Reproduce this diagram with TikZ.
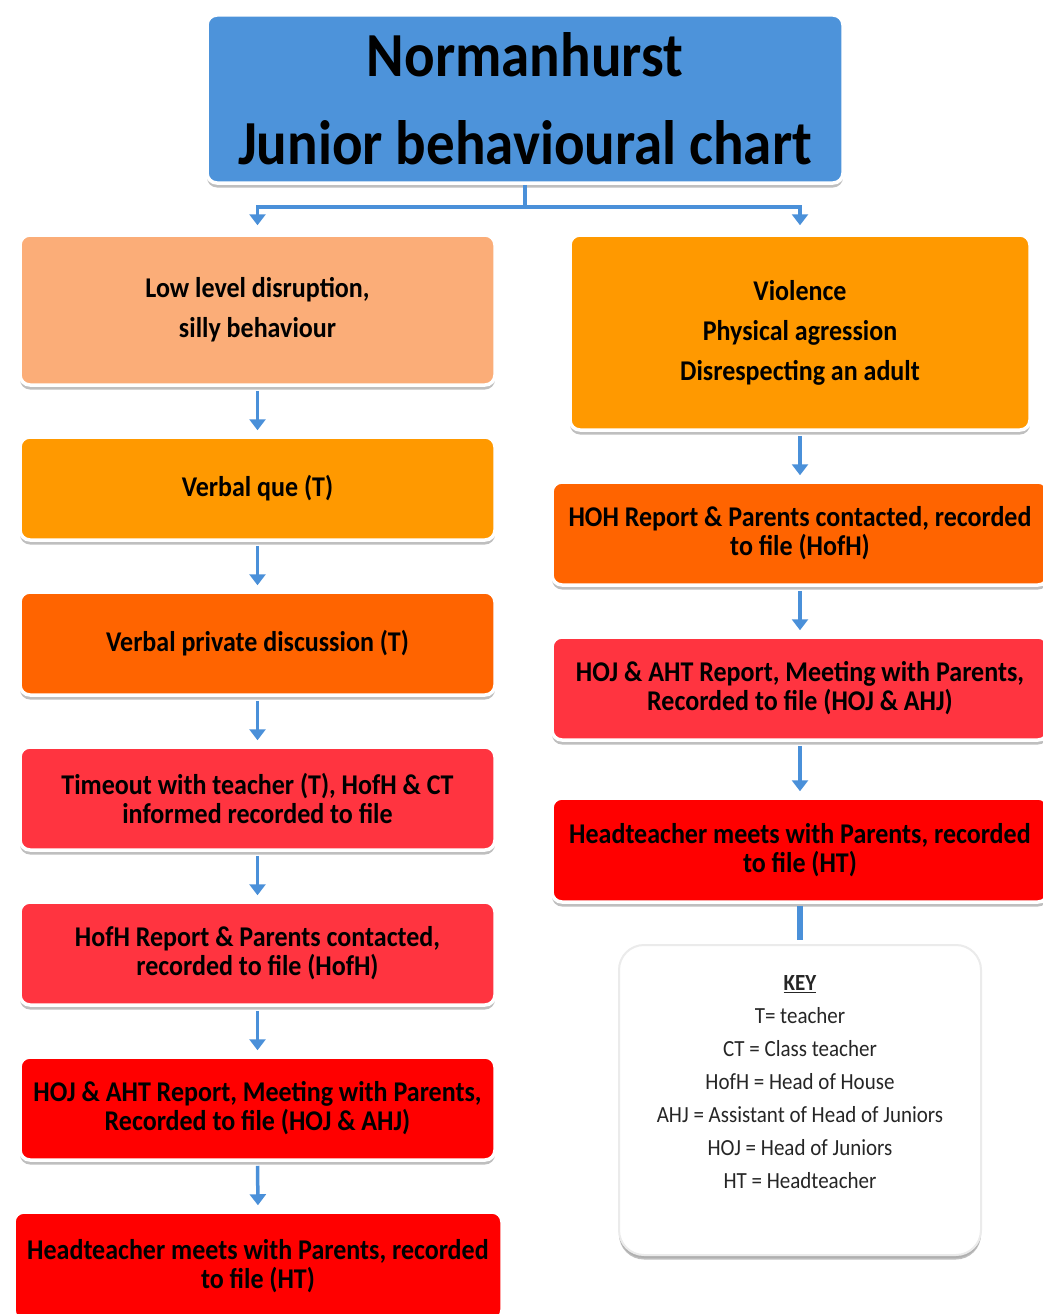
\documentclass[tikz,border=0pt]{standalone}
\usepackage{fontspec}
\setmainfont{Carlito}
\usepackage{graphicx}
\usetikzlibrary{shadows,arrows.meta}
\definecolor{tblue}{HTML}{4D93DA}
\definecolor{ablue}{HTML}{4A90D9}
\definecolor{peach}{HTML}{FBAD78}
\definecolor{orng}{HTML}{FF9900}
\definecolor{dorng}{HTML}{FF6400}
\definecolor{pred}{HTML}{FF3440}
\definecolor{fred}{HTML}{FF0000}
\newcommand\vst[1]{\scalebox{1}[1.1]{#1}}
\newcommand\bodyfont{\fontsize{26}{29}\selectfont\bfseries}
\newcommand\bigbodyfont{\fontsize{26}{40}\selectfont\bfseries}
\newcommand\titlefont{\fontsize{57}{88}\selectfont\bfseries}
\newcommand\keyfont{\fontsize{21}{33}\selectfont}
\begin{document}
\begin{tikzpicture}[x=1pt,y=-1pt,
  box/.style={rounded corners=10pt, draw=white, line width=3.5pt, align=center,
    inner sep=0pt, font=\bodyfont, text=black,
    drop shadow={shadow xshift=0pt, shadow yshift=-4.5pt, opacity=0.45, fill=black!55}},
  flow/.style={draw=ablue, line width=3.5pt},
  arr/.style={flow, -{Triangle[width=16pt,length=11pt]}, shorten <=4pt, shorten >=5pt},
]
\path[use as bounding box, clip] (0,0) rectangle (1043,1314);
\fill[white] (0,0) rectangle (1043,1314);

% title
\node[box, fill=tblue, minimum width=636pt, minimum height=168pt, font=\titlefont]
  (title) at (525,99) {\vst{Normanhurst}\\\vst{Junior behavioural chart}};

% left column
\node[box, fill=peach, minimum width=475pt, minimum height=150pt, font=\bigbodyfont]
  (L1) at (257.5,310) {\vst{Low level disruption,}\\\vst{silly behaviour}};
\node[box, fill=orng, minimum width=475pt, minimum height=103pt]
  (L2) at (257.5,488.5) {\vst{Verbal que (T)}};
\node[box, fill=dorng, minimum width=475pt, minimum height=103pt]
  (L3) at (257.5,643.5) {\vst{Verbal private discussion (T)}};
\node[box, fill=pred, minimum width=475pt, minimum height=103pt]
  (L4) at (257.5,798.5) {\vst{Timeout with teacher (T), HofH \& CT}\\\vst{informed recorded to file}};
\node[box, fill=pred, minimum width=475pt, minimum height=103pt]
  (L5) at (257.5,953.5) {\vst{HofH Report \& Parents contacted,}\\\vst{recorded to file (HofH)}};
\node[box, fill=fred, minimum width=475pt, minimum height=103pt]
  (L6) at (257.5,1108.5) {\vst{HOJ \& AHT Report, Meeting with Parents,}\\\vst{Recorded to file (HOJ \& AHJ)}};
\node[box, fill=fred, minimum width=488pt, minimum height=108pt]
  (L7) at (258,1266) {\vst{Headteacher meets with Parents, recorded}\\\vst{to file (HT)}};

% right column
\node[box, fill=orng, minimum width=460pt, minimum height=195pt, font=\bigbodyfont]
  (R1) at (800,332.5) {\vst{Violence}\\\vst{Physical agression}\\\vst{Disrespecting an adult}};
\node[box, fill=dorng, minimum width=496pt, minimum height=103pt]
  (R2) at (800,533.5) {\vst{HOH Report \& Parents contacted, recorded}\\\vst{to file (HofH)}};
\node[box, fill=pred, minimum width=496pt, minimum height=103pt]
  (R3) at (800,688.5) {\vst{HOJ \& AHT Report, Meeting with Parents,}\\\vst{Recorded to file (HOJ \& AHJ)}};
\node[box, fill=fred, minimum width=496pt, minimum height=104pt]
  (R4) at (800,850) {\vst{Headteacher meets with Parents, recorded}\\\vst{to file (HT)}};

% key
\node[box, fill=white, draw=black!8, line width=2pt, rounded corners=25pt,
  minimum width=362pt, minimum height=310pt,
  drop shadow={shadow xshift=0pt, shadow yshift=-3pt, opacity=0.3, fill=black!45}]
  (key) at (800,1100) {};
\node[font=\keyfont, text=black!85, align=center, inner sep=0pt] (keytext) at (800,1082)
  {\vst{\textbf{\underline{KEY}}}\\\vst{T= teacher}\\\vst{CT = Class teacher}\\\vst{HofH = Head of House}\\
   \vst{AHJ = Assistant of Head of Juniors}\\\vst{HOJ = Head of Juniors}\\\vst{HT = Headteacher}};

% connectors
\coordinate (split) at (525,207);
\draw[flow] (title.south) -- (split);
\draw[arr, shorten <=0pt, shorten >=8pt] (split) -| (L1.north);
\draw[arr, shorten <=0pt, shorten >=8pt] (split) -| (R1.north);
\draw[arr] (L1.south) -- (L2.north);
\draw[arr] (L2.south) -- (L3.north);
\draw[arr] (L3.south) -- (L4.north);
\draw[arr] (L4.south) -- (L5.north);
\draw[arr] (L5.south) -- (L6.north);
\draw[arr] (L6.south) -- (L7.north);
\draw[arr] (R1.south) -- (R2.north);
\draw[arr] (R2.south) -- (R3.north);
\draw[arr] (R3.south) -- (R4.north);
\draw[draw=ablue, line width=6pt, shorten <=2pt, shorten >=4pt] (R4.south) -- (key.north);
\end{tikzpicture}
\end{document}
